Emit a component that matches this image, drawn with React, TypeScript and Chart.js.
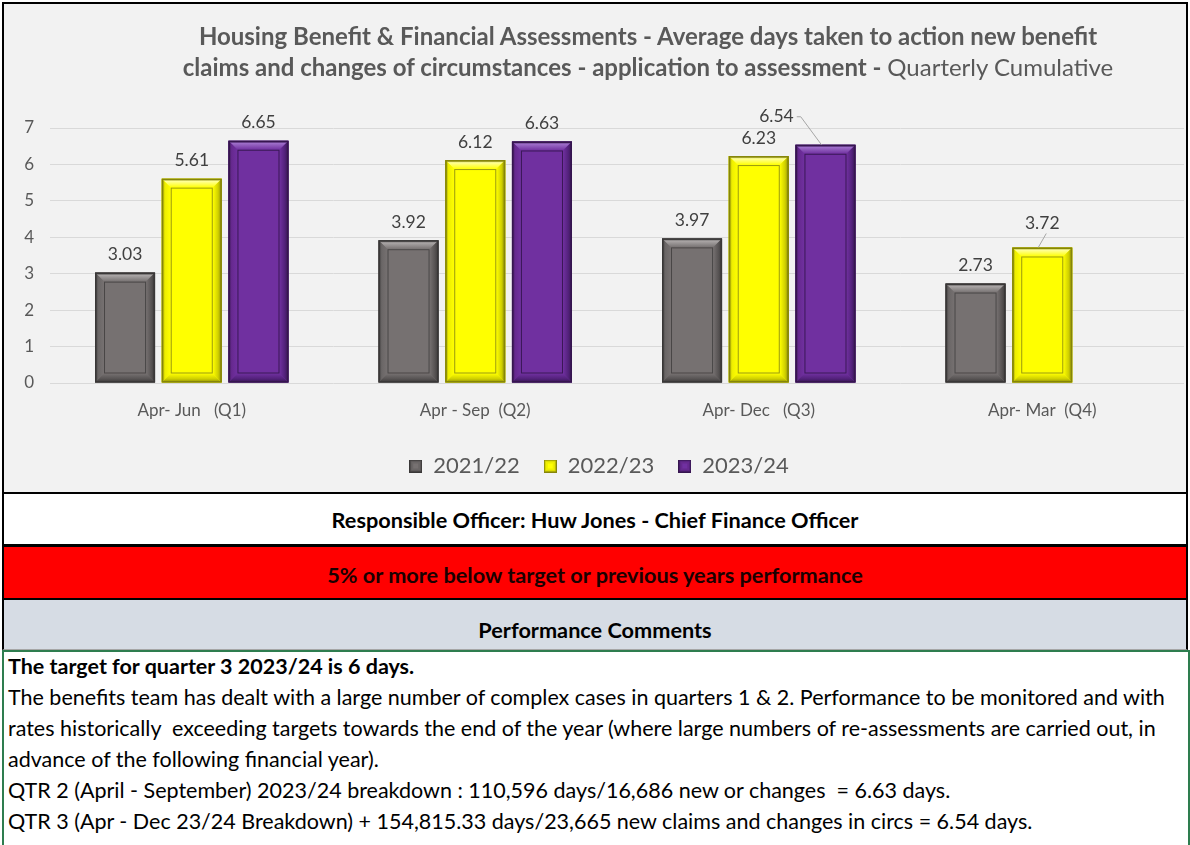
import React, { useEffect, useRef } from "react";
import { Chart, registerables } from "chart.js";
Chart.register(...registerables);

// ---------- data ----------
const categories = ["Apr- Jun   (Q1)", "Apr - Sep  (Q2)", "Apr- Dec   (Q3)", "Apr- Mar  (Q4)"];
const seriesNames = ["2021/22", "2022/23", "2023/24"];
const values2021 = [3.03, 3.92, 3.97, 2.73];
const values2022 = [5.61, 6.12, 6.23, 3.72];
const values2023 = [6.65, 6.63, 6.54, null];
const yMin = 0;
const yMax = 7;
const yStep = 1;

const titleLine1 = "Housing Benefit & Financial Assessments - Average days taken to action new benefit";
const titleLine2Bold = "claims and changes of circumstances - application to assessment - ";
const titleLine2Regular = "Quarterly Cumulative";
const officerText = "Responsible Officer: Huw Jones - Chief Finance Officer";
const statusText = "5% or more below target or previous years performance";
const commentsHeader = "Performance Comments";
const commentBold = "The target for quarter 3 2023/24 is 6 days.";
const commentLines = [
  "The benefits team has dealt with a large number of complex cases in quarters 1 & 2. Performance to be monitored and with",
  "rates historically  exceeding targets towards the end of the year (where large numbers of re-assessments are carried out, in",
  "advance of the following financial year).",
  "QTR 2 (April - September) 2023/24 breakdown : 110,596 days/16,686 new or changes  = 6.63 days.",
  "QTR 3 (Apr - Dec 23/24 Breakdown) + 154,815.33 days/23,665 new claims and changes in circs = 6.54 days.",
];

// ---------- styles ----------
const FONT = "Lato, 'Open Sans', sans-serif";
const palettes = [
  { face: "#767171", edge: "#3a3838", light: "#aaa6a6", mid: "#6a6666", dark: "#575353", inner: "#4a4747" },
  { face: "#ffff00", edge: "#85850a", light: "#ffff99", mid: "#eeee00", dark: "#cfcf00", inner: "#9a9a10" },
  { face: "#7030a0", edge: "#36164f", light: "#9d6dc8", mid: "#66298f", dark: "#52217a", inner: "#3a1856" },
];
// label nudges (datasetIndex-categoryIndex): [dx, dy, leader]
const labelNudges: Record<string, [number, number, boolean]> = {
  "2-2": [-49, -10, true],
  "1-3": [0, -6, true],
};

function makeIcon(p: any) {
  const c = document.createElement("canvas");
  c.width = 13;
  c.height = 13;
  const g = c.getContext("2d")!;
  g.fillStyle = p.edge;
  g.fillRect(0, 0, 13, 13);
  g.fillStyle = p.dark;
  g.fillRect(1, 1, 11, 11);
  g.fillStyle = p.mid;
  g.fillRect(2, 2, 9, 9);
  g.fillStyle = p.face;
  g.fillRect(4, 4, 5, 5);
  return c;
}

function drawBevel(ctx: CanvasRenderingContext2D, l: number, t: number, r: number, b: number, p: any) {
  const bv = 9;
  const poly = (pts: number[][], fill: any) => {
    ctx.beginPath();
    ctx.moveTo(pts[0][0], pts[0][1]);
    for (let i = 1; i < pts.length; i++) ctx.lineTo(pts[i][0], pts[i][1]);
    ctx.closePath();
    ctx.fillStyle = fill;
    ctx.fill();
  };
  ctx.fillStyle = p.face;
  ctx.fillRect(l, t, r - l, b - t);
  let g = ctx.createLinearGradient(0, t, 0, t + bv);
  g.addColorStop(0, p.edge);
  g.addColorStop(0.3, p.light);
  g.addColorStop(1, p.face);
  poly([[l, t], [r, t], [r - bv, t + bv], [l + bv, t + bv]], g);
  g = ctx.createLinearGradient(l, 0, l + bv, 0);
  g.addColorStop(0, p.edge);
  g.addColorStop(0.35, p.mid);
  g.addColorStop(1, p.face);
  poly([[l, t], [l + bv, t + bv], [l + bv, b - bv], [l, b]], g);
  g = ctx.createLinearGradient(r, 0, r - bv, 0);
  g.addColorStop(0, p.edge);
  g.addColorStop(0.4, p.dark);
  g.addColorStop(1, p.face);
  poly([[r, t], [r, b], [r - bv, b - bv], [r - bv, t + bv]], g);
  g = ctx.createLinearGradient(0, b, 0, b - bv);
  g.addColorStop(0, p.edge);
  g.addColorStop(0.4, p.dark);
  g.addColorStop(1, p.face);
  poly([[l, b], [l + bv, b - bv], [r - bv, b - bv], [r, b]], g);
  ctx.strokeStyle = p.inner;
  ctx.lineWidth = 1;
  ctx.strokeRect(l + bv + 0.5, t + bv + 0.5, r - l - 2 * bv - 1, b - t - 2 * bv - 1);
  ctx.strokeStyle = p.edge;
  ctx.lineWidth = 1.5;
  ctx.strokeRect(l + 0.75, t + 0.75, r - l - 1.5, b - t - 1.5);
}

const bevelPlugin = {
  id: "bevelBars",
  afterDatasetsDraw(chart: any) {
    const ctx = chart.ctx as CanvasRenderingContext2D;
    ctx.save();
    chart.data.datasets.forEach((ds: any, di: number) => {
      const meta = chart.getDatasetMeta(di);
      meta.data.forEach((bar: any, i: number) => {
        const v = ds.data[i];
        if (v == null) return;
        const { x, y, base, width } = bar.getProps(["x", "y", "base", "width"], true);
        drawBevel(ctx, x - width / 2, y, x + width / 2, base, palettes[di]);
      });
    });
    // value labels
    ctx.font = `17.5px ${FONT}`;
    ctx.textAlign = "center";
    ctx.textBaseline = "middle";
    chart.data.datasets.forEach((ds: any, di: number) => {
      const meta = chart.getDatasetMeta(di);
      meta.data.forEach((bar: any, i: number) => {
        const v = ds.data[i];
        if (v == null) return;
        const { x, y } = bar.getProps(["x", "y"], true);
        const n = labelNudges[`${di}-${i}`] || [0, 0, false];
        const lx = x + n[0];
        const ly = y - 18 + n[1];
        const txt = v.toFixed(2);
        ctx.fillStyle = "#404040";
        ctx.fillText(txt, lx, ly);
        if (n[2]) {
          ctx.strokeStyle = "#a6a6a6";
          ctx.lineWidth = 1;
          ctx.beginPath();
          if (n[0] !== 0) {
            const w = ctx.measureText(txt).width;
            ctx.moveTo(lx + w / 2 + 3, ly);
            ctx.lineTo(lx + w / 2 + 7, ly);
            ctx.lineTo(x - 4, y);
          } else {
            ctx.moveTo(lx + 4, ly + 10);
            ctx.lineTo(x - 4, y);
          }
          ctx.stroke();
        }
      });
    });
    ctx.restore();
  },
};

function ChartBox() {
  const ref = useRef<HTMLCanvasElement>(null);
  useEffect(() => {
    if (!ref.current) return;
    const icons = palettes.map(makeIcon);
    const allSeries = [values2021, values2022, values2023];
    const chart = new Chart(ref.current, {
      type: "bar",
      data: {
        labels: categories,
        datasets: seriesNames.map((name, i) => ({
          label: name,
          data: allSeries[i] as any,
          backgroundColor: palettes[i].face,
          borderColor: palettes[i].edge,
          borderWidth: 0,
          categoryPercentage: 0.706,
          barPercentage: 0.9,
        })),
      },
      plugins: [bevelPlugin],
      options: {
        animation: false,
        responsive: false,
        maintainAspectRatio: false,
        layout: { padding: { top: 124, right: 2, bottom: 5, left: 10 } },
        plugins: {
          tooltip: { enabled: false },
          title: { display: false },
          legend: {
            position: "bottom",
            labels: {
              usePointStyle: true,
              boxWidth: 13,
              boxHeight: 13,
              padding: 24,
              color: "#595959",
              font: { family: FONT, size: 22 },
              generateLabels: (ch: any) => {
                const items = Chart.defaults.plugins.legend.labels.generateLabels(ch);
                return items.map((it: any, i: number) => ({ ...it, pointStyle: icons[i] }));
              },
            },
          },
        },
        scales: {
          x: {
            grid: { display: false, drawTicks: false },
            border: { display: false },
            ticks: { color: "#595959", font: { family: FONT, size: 17 }, padding: 17, maxRotation: 0 },
            afterFit: (s: any) => {
              s.height = 48;
            },
          },
          y: {
            min: yMin,
            max: yMax,
            ticks: { stepSize: yStep, color: "#595959", font: { family: FONT, size: 17 }, padding: 16 },
            grid: { color: "#d9d9d9", drawTicks: false, lineWidth: 1 },
            border: { display: false },
            afterFit: (s: any) => {
              s.width = 36;
            },
          },
        },
      } as any,
    });
    return () => chart.destroy();
  }, []);
  return <canvas ref={ref} width={1182} height={488} style={{ position: "absolute", left: 0, top: 0, width: 1182, height: 488 }} />;
}

export default function App() {
  useEffect(() => {
    document.body.style.margin = "0";
  }, []);
  const rowBase: React.CSSProperties = {
    position: "absolute",
    left: 2,
    width: 1186,
    boxSizing: "border-box",
    borderLeft: "2px solid #000",
    borderRight: "2px solid #000",
    display: "flex",
    alignItems: "center",
    justifyContent: "center",
    fontFamily: FONT,
    fontWeight: 700,
    fontSize: 21.7,
    color: "#000",
  };
  return (
    <div style={{ position: "relative", width: 1190, height: 845, background: "#fff", overflow: "hidden", fontFamily: FONT, margin: 0 }}>
      <div
        style={{
          position: "absolute",
          left: 2,
          top: 2,
          width: 1186,
          height: 492,
          boxSizing: "border-box",
          border: "2px solid #000",
          background: "#f2f2f2",
        }}
      >
        <ChartBox />
        <div
          style={{
            position: "absolute",
            left: 644,
            top: 16,
            transform: "translateX(-50%)",
            whiteSpace: "pre",
            textAlign: "center",
            color: "#595959",
            fontFamily: FONT,
            fontSize: 24,
            lineHeight: "31px",
            fontWeight: 700,
          }}
        >
          <div>{titleLine1}</div>
          <div>
            {titleLine2Bold}
            <span style={{ fontWeight: 400 }}>{titleLine2Regular}</span>
          </div>
        </div>
      </div>
      <div style={{ ...rowBase, top: 494, height: 52, background: "#fff", borderBottom: "2px solid #000", paddingTop: 1 }}>{officerText}</div>
      <div style={{ ...rowBase, top: 546, height: 54, background: "#ff0000", borderTop: "1px solid #000", borderBottom: "2px solid #000", color: "#1a0000", paddingTop: 5 }}>{statusText}</div>
      <div style={{ ...rowBase, top: 600, height: 50, background: "#d6dce4", borderBottom: "1px solid #a6a6a6", paddingTop: 11 }}>{commentsHeader}</div>
      <div
        style={{
          position: "absolute",
          left: 2,
          top: 650,
          width: 1188,
          height: 200,
          boxSizing: "border-box",
          border: "2px solid #2e7d4f",
          background: "#fff",
          paddingLeft: 4,
          paddingTop: 0,
          fontFamily: FONT,
          fontSize: 21.5,
          lineHeight: "31px",
          color: "#000",
          whiteSpace: "pre",
        }}
      >
        <div style={{ fontWeight: 700, marginTop: -1 }}>{commentBold}</div>
        {commentLines.map((l, i) => (
          <div key={i}>{l}</div>
        ))}
      </div>
    </div>
  );
}
